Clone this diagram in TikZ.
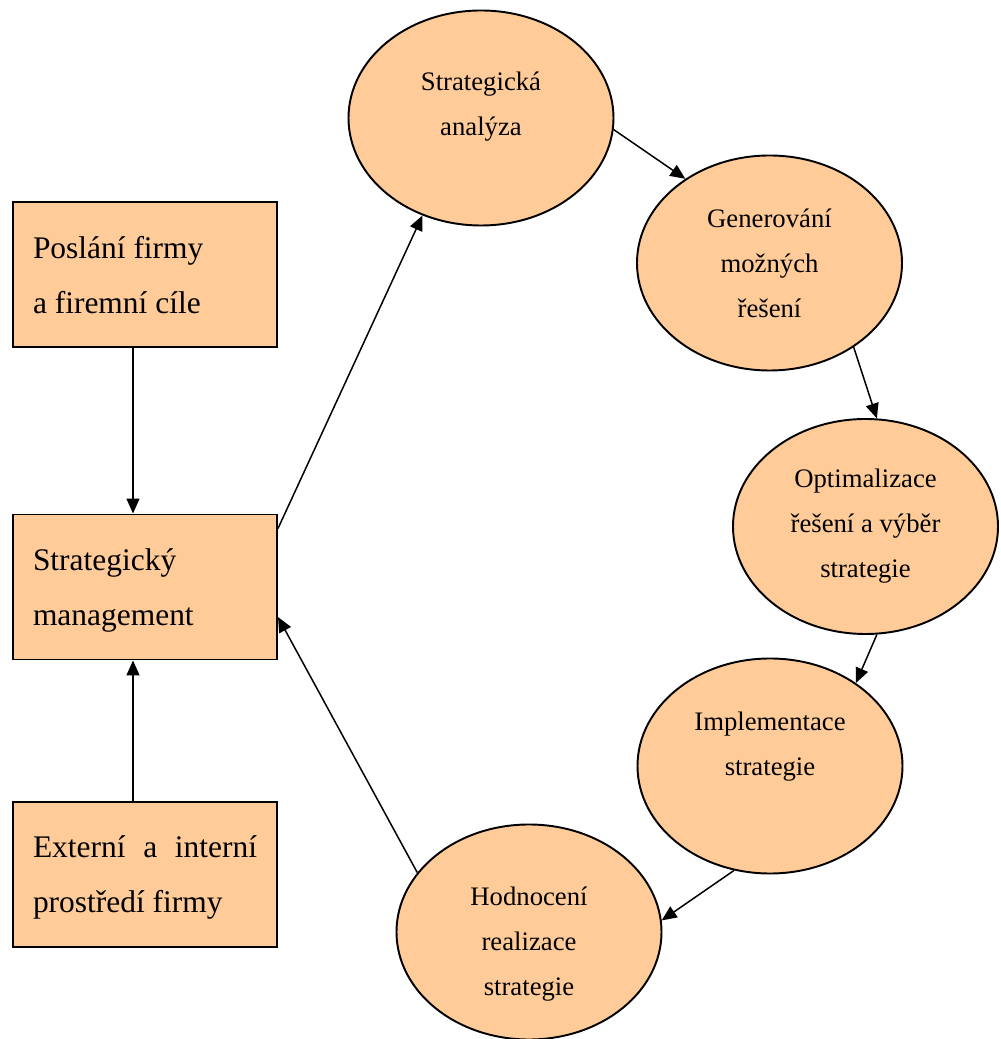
\documentclass[tikz,border=0pt]{standalone}
\usepackage{fontspec}
\setmainfont{Liberation Serif}
\usepackage{tikz}
\usetikzlibrary{arrows.meta,shapes.geometric}
\definecolor{peach}{HTML}{FFCC99}

\begin{document}
\begin{tikzpicture}[
  infobox/.style={draw, line width=1.1pt, fill=peach, minimum width=5.28cm, minimum height=2.9cm, text width=4.48cm, inner xsep=0.4cm, align=flush left, text depth=1.1cm, font=\fontsize{17.9}{31.3}\selectfont},
  stage/.style={draw, ellipse, line width=1.1pt, fill=peach, minimum width=5.3cm, minimum height=4.3cm, inner sep=0pt, text width=3.4cm, align=flush center, font=\fontsize{15.2}{25.6}\selectfont},
  flow/.style={-{Triangle[length=0.3cm,width=0.26cm]}, line width=0.85pt}
]
\useasboundingbox (0,0) rectangle (20,20.78);
\node[infobox] (mise) at (2.9,15.29) {Poslání firmy\\a firemní cíle};
\node[infobox] (sm) at (2.9,9.04) {Strategický\\management};
\node[infobox] (okoli) at (2.9,3.29) {Externí\hfill a\hfill interní\\prostředí firmy};
\node[stage, text depth=1.46cm] (analyza) at (9.62,18.42) {Strategická\\analýza};
\node[stage] (generovani) at (15.39,15.52) {Generování\\možných\\řešení};
\node[stage] (vyber) at (17.31,10.25) {Optimalizace\\řešení a výběr\\strategie};
\node[stage, text depth=1.78cm] (implementace) at (15.40,5.46) {Implementace\\strategie};
\node[stage, text height=0.85cm] (hodnoceni) at (10.58,2.14) {Hodnocení\\realizace\\strategie};
\draw[flow] ([xshift=-0.24cm]mise.south) -- ([xshift=-0.24cm]sm.north);
\draw[flow] ([xshift=-0.24cm]okoli.north) -- ([xshift=-0.24cm]sm.south);
\draw[flow] ([yshift=-0.3cm]sm.north east) -- (analyza.239);
\draw[flow] (analyza.-5) -- (generovani.135);
\draw[flow] (generovani.-45) -- (vyber.84);
\draw[flow] (vyber.-84) -- (implementace.44);
\draw[flow] (implementace.251) -- (hodnoceni.5);
\draw[flow] (hodnoceni.152) -- ([yshift=-0.6cm]sm.east);
\end{tikzpicture}
\end{document}
